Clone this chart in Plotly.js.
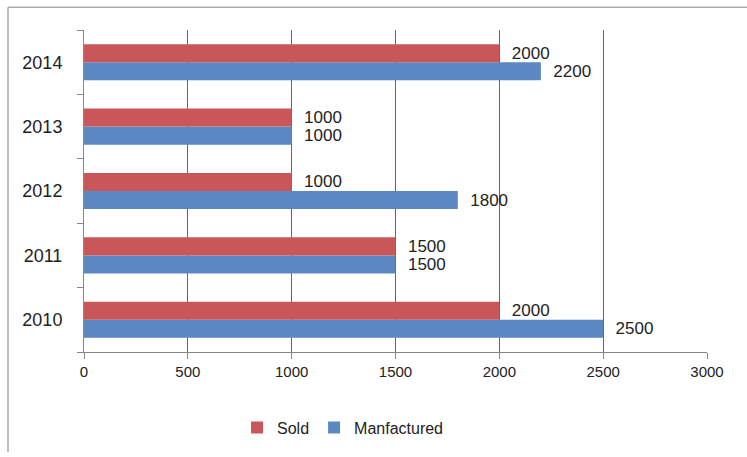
<!DOCTYPE html>
<html>
<head>
<meta charset="utf-8">
<script src="https://cdn.plot.ly/plotly-3.0.1.min.js"></script>
<style>html,body{margin:0;padding:0;background:#fff;}#chart{width:747px;height:457px;}</style>
</head>
<body>
<div id="chart"></div>
<script>
const years = ['2010', '2011', '2012', '2013', '2014'];
const sold = [2000, 1500, 1000, 1000, 2000];
const manufactured = [2500, 1500, 1800, 1000, 2200];
const xTicks = [0, 500, 1000, 1500, 2000, 2500, 3000];

const fam = 'Liberation Sans, Arial, sans-serif';
const pad = '\u00a0\u00a0';

const traces = [
  {
    type: 'bar', orientation: 'h', name: 'Manfactured',
    y: years, x: manufactured,
    marker: {color: '#5b87c2', line: {width: 0}},
    text: manufactured.map(v => pad + v), textposition: 'outside', constraintext: 'none',
    textfont: {family: fam, size: 17, color: '#222'},
    outsidetextfont: {family: fam, size: 17, color: '#222'},
    cliponaxis: false, legendrank: 2
  },
  {
    type: 'bar', orientation: 'h', name: 'Sold',
    y: years, x: sold,
    marker: {color: '#c9575a', line: {width: 0}},
    text: sold.map(v => pad + v), textposition: 'outside', constraintext: 'none',
    textfont: {family: fam, size: 17, color: '#222'},
    outsidetextfont: {family: fam, size: 17, color: '#222'},
    cliponaxis: false, legendrank: 1
  }
];

const layout = {
  width: 747, height: 457,
  margin: {l: 84, r: 40, t: 30, b: 101},
  paper_bgcolor: '#fff', plot_bgcolor: '#fff',
  barmode: 'group', bargap: 0.44, bargroupgap: 0,
  font: {family: fam, size: 15, color: '#222'},
  uniformtext: {mode: false},
  showlegend: true,
  legend: {orientation: 'h', x: 0.415, xanchor: 'center', y: -0.235, yanchor: 'middle',
           font: {family: fam, size: 16, color: '#222'}, itemwidth: 30, traceorder: 'normal'},
  xaxis: {
    range: [0, 3000], tickvals: xTicks, ticktext: xTicks.map(String),
    showgrid: true, gridcolor: '#666', gridwidth: 1,
    showline: true, linecolor: '#888', linewidth: 1,
    ticks: 'outside', ticklen: 6, tickcolor: '#888',
    zeroline: false, tickfont: {family: fam, size: 15, color: '#222'}, fixedrange: true
  },
  yaxis: {
    type: 'category', categoryorder: 'array', categoryarray: years,
    range: [-0.5, 4.5],
    showgrid: false, showline: true, linecolor: '#888', linewidth: 1,
    ticks: 'outside', ticklen: 6, tickcolor: '#888', tickson: 'boundaries',
    tickfont: {family: fam, size: 18, color: '#222'}, ticklabelstandoff: 17, fixedrange: true
  },
  shapes: [
    {type: 'line', xref: 'paper', yref: 'paper',
     x0: (8 - 84) / 623, x1: (8 - 84) / 623, y0: 1 + 23 / 326, y1: -101 / 326,
     line: {color: '#aaa', width: 1.5}},
    {type: 'line', xref: 'paper', yref: 'paper',
     x0: (8 - 84) / 623, x1: 1 + 40 / 623, y0: 1 + 23 / 326, y1: 1 + 23 / 326,
     line: {color: '#aaa', width: 1.5}}
  ]
};

Plotly.newPlot('chart', traces, layout, {displayModeBar: false, staticPlot: true});
</script>
</body>
</html>
